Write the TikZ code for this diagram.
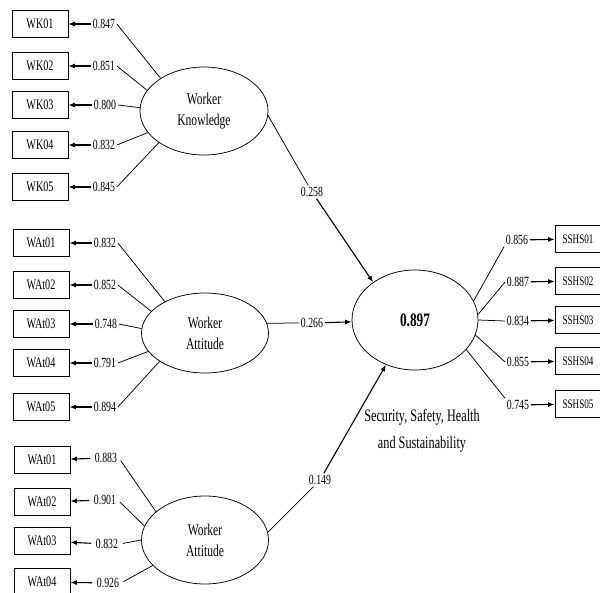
\documentclass[tikz,border=0pt]{standalone}
\usepackage{fontspec}
\setmainfont{Liberation Serif}[FakeStretch=0.7]
\usetikzlibrary{arrows.meta,shapes.geometric}

\begin{document}
\begin{tikzpicture}[x=1pt,y=-1pt,line width=0.75pt,
    ind/.style={draw,minimum width=56pt,minimum height=27pt,inner sep=0pt,font=\fontsize{14.5}{16}\selectfont},
    rind/.style={ind,minimum width=46pt,font=\fontsize{13}{15}\selectfont},
    coef/.style={inner sep=1.5pt,font=\fontsize{14}{16}\selectfont},
    lat/.style={draw,ellipse,inner sep=0pt,align=center,font=\fontsize{16.5}{21}\selectfont},
    arr/.style={-{Latex[length=6.5pt,width=5pt]},line width=1.1pt}]
    \useasboundingbox (0,0) rectangle (600,592);

    % latent variables
    \node[lat,minimum width=128pt,minimum height=88pt] (know) at (204,111) {Worker\\Knowledge};
    \node[lat,minimum width=127pt,minimum height=80pt] (att) at (205,333) {Worker\\Attitude};
    \node[lat,minimum width=127pt,minimum height=88pt] (att2) at (205,540) {Worker\\Attitude};
    \node[lat,minimum width=126pt,minimum height=100pt,font=\fontsize{19}{21}\selectfont\bfseries] (sshs) at (415,320) {0.897};
    \node[align=center,font=\fontsize{17.5}{27}\selectfont] (cap) at (422,431) {Security, Safety, Health\\and Sustainability};

    % worker knowledge
    \node[ind] (wk1) at (40,24) {WK01};
    \node[ind] (wk2) at (40,66) {WK02};
    \node[ind] (wk3) at (40,105) {WK03};
    \node[ind] (wk4) at (40,145) {WK04};
    \node[ind] (wk5) at (40,187) {WK05};
    \node[coef] (lwk1) at (104,24) {0.847};
    \node[coef] (lwk2) at (104,66) {0.851};
    \node[coef] (lwk3) at (105,105) {0.800};
    \node[coef] (lwk4) at (104,145) {0.832};
    \node[coef] (lwk5) at (104,187) {0.845};

    % worker attitude
    \node[ind] (wa1) at (41,243) {WAt01};
    \node[ind] (wa2) at (41,285) {WAt02};
    \node[ind] (wa3) at (41,324) {WAt03};
    \node[ind] (wa4) at (41,363) {WAt04};
    \node[ind] (wa5) at (41,407) {WAt05};
    \node[coef] (lwa1) at (105,243) {0.832};
    \node[coef] (lwa2) at (105,285) {0.852};
    \node[coef] (lwa3) at (106,324) {0.748};
    \node[coef] (lwa4) at (105,363) {0.791};
    \node[coef] (lwa5) at (105,407) {0.894};

    % second worker attitude
    \node[ind] (wb1) at (42,460) {WAt01};
    \node[ind] (wb2) at (42,502) {WAt02};
    \node[ind] (wb3) at (42,541) {WAt03};
    \node[ind] (wb4) at (42,582) {WAt04};
    \node[coef] (lwb1) at (106,458) {0.883};
    \node[coef] (lwb2) at (105,500) {0.901};
    \node[coef] (lwb3) at (107,544) {0.832};
    \node[coef] (lwb4) at (108,583) {0.926};

    % outcome indicators
    \node[rind] (ss1) at (578,239) {SSHS01};
    \node[rind] (ss2) at (578,281) {SSHS02};
    \node[rind] (ss3) at (578,320) {SSHS03};
    \node[rind] (ss4) at (578,361) {SSHS04};
    \node[rind] (ss5) at (578,404) {SSHS05};
    \node[coef] (ls1) at (517,240) {0.856};
    \node[coef] (ls2) at (518,282) {0.887};
    \node[coef] (ls3) at (518,321) {0.834};
    \node[coef] (ls4) at (518,362) {0.855};
    \node[coef] (ls5) at (518,405) {0.745};

    % path coefficients
    \node[coef] (p1) at (312,192) {0.258};
    \node[coef] (p2) at (312,323) {0.266};
    \node[coef] (p3) at (320,480) {0.149};

    \foreach \i/\a in {1/143,2/160,3/177,4/201,5/215}{
        \draw (know.\a) -- (lwk\i.east);
        \draw[arr] (lwk\i) -- (wk\i);
    }
    \foreach \i/\a in {1/142,2/158,3/176,4/198,5/212}{
        \draw (att.\a) -- (lwa\i.east);
        \draw[arr] (lwa\i) -- (wa\i);
    }
    \foreach \i/\a in {1/150,2/167,3/180,4/206}{
        \draw[shorten >=3pt] (att2.\a) -- (lwb\i.east);
        \draw[arr,shorten <=3pt] (lwb\i) -- (wb\i);
    }
    \foreach \i/\a/\b in {1/18/south west,2/5/west,3/0/west,4/346/west,5/330/north west}{
        \draw (sshs.\a) -- (ls\i.\b);
        \draw[arr] (ls\i) -- (ss\i);
    }

    \draw (know.-4) -- (p1);
    \draw[arr] (p1) -- (sshs.138);
    \draw (att.9) -- (p2);
    \draw[arr] (p2) -- (sshs);
    \draw (att2.7) -- (p3);
    \draw[arr] (p3) -- (sshs.237);
\end{tikzpicture}
\end{document}
